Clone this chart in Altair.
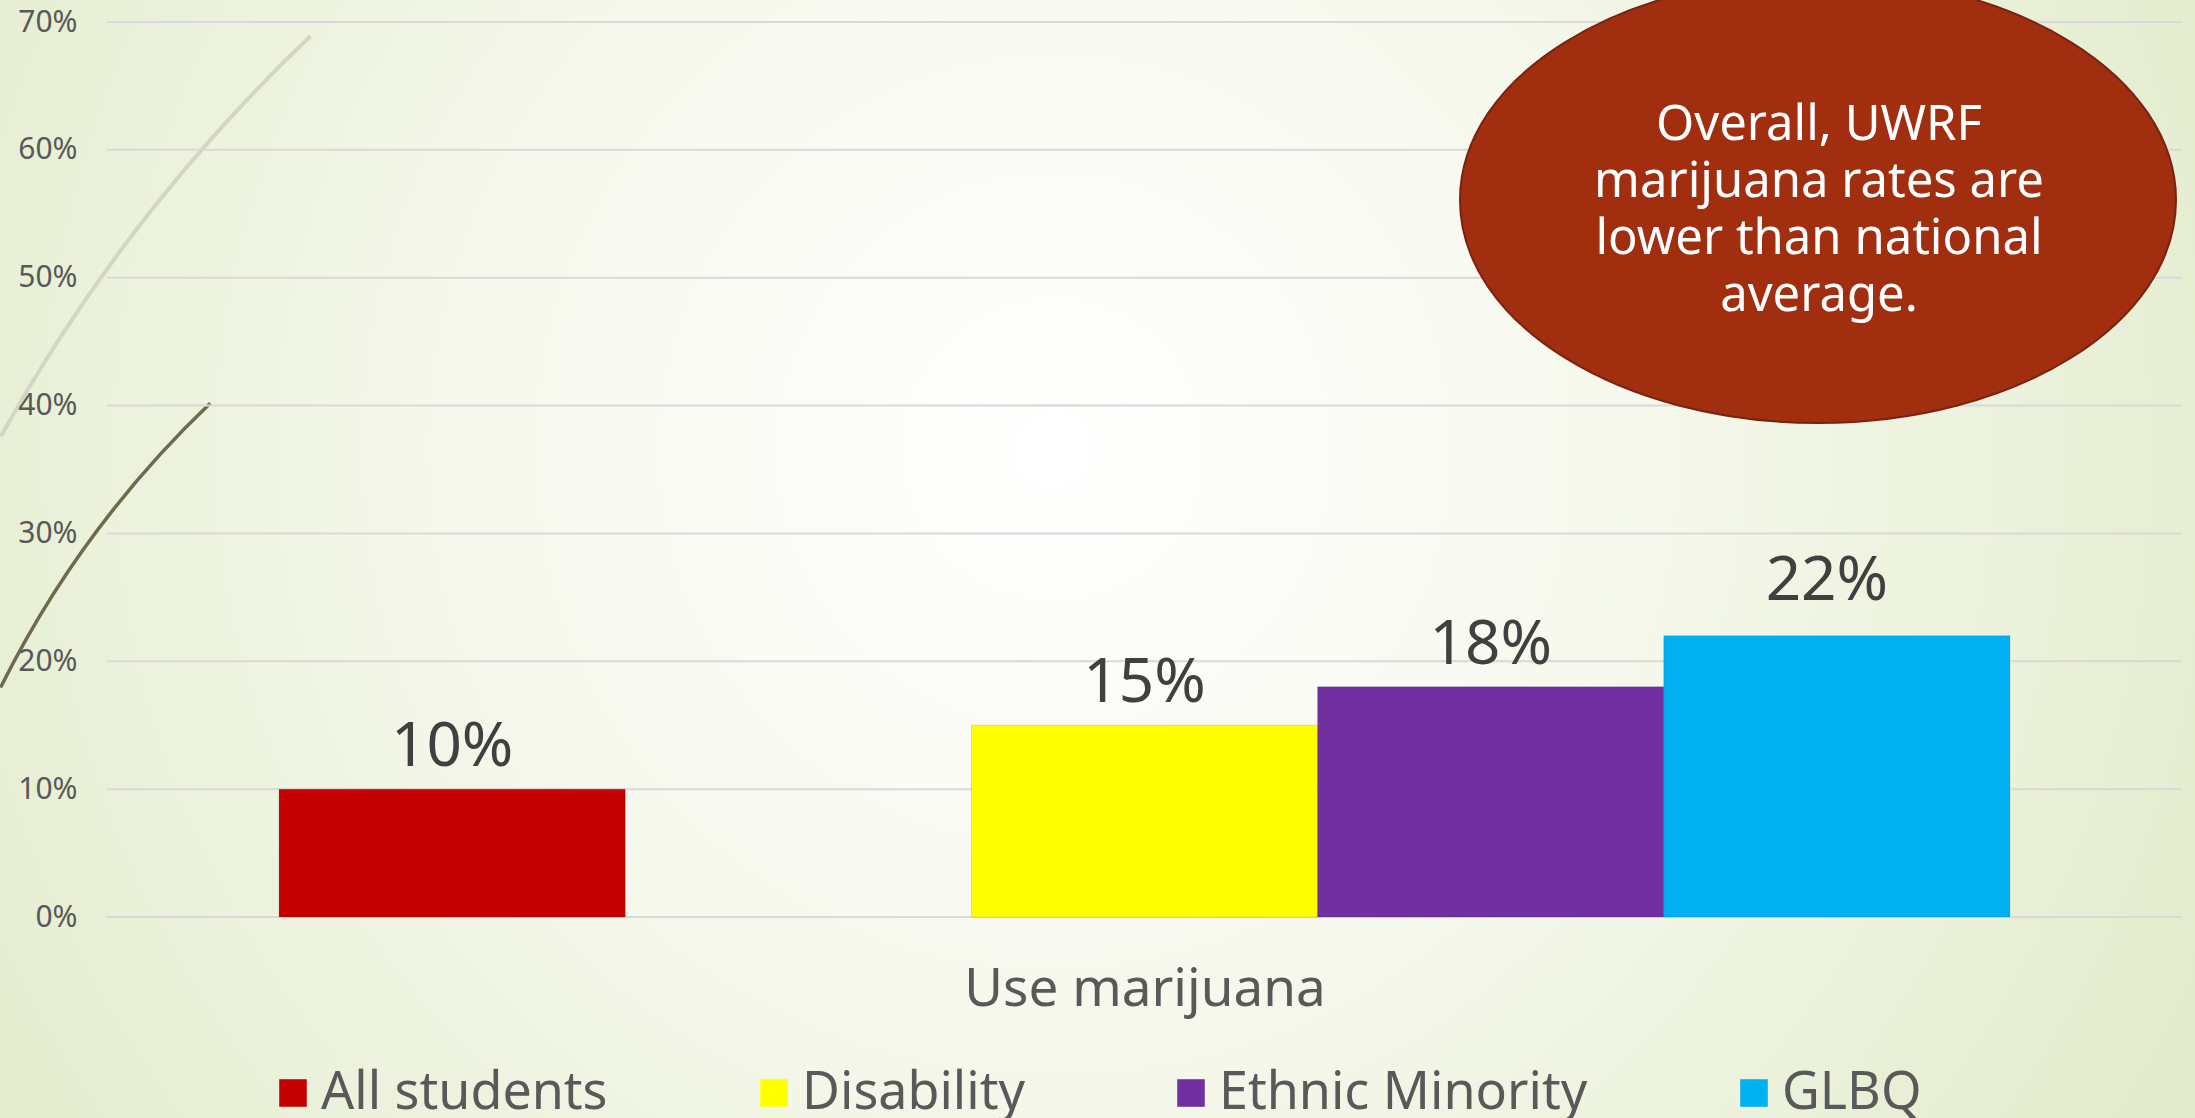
import altair as alt
import pandas as pd

# ---------------- data ----------------
groups = ["All students", "Disability", "Ethnic Minority", "GLBQ"]
values = [0.10, 0.15, 0.18, 0.22]
colors = ["#C40000", "#FFFF00", "#7030A0", "#00B0F0"]
slots = ["All students", " ", "Disability", "Ethnic Minority", "GLBQ"]  # blank slot between series
y_ticks = [0, 0.1, 0.2, 0.3, 0.4, 0.5, 0.6, 0.7]
x_title = "Use marijuana"
callout_lines = ["Overall, UWRF", "marijuana rates are", "lower than national", "average."]

W, H = 2075, 895
PAD = {"left": 107, "top": 22, "right": 13, "bottom": 201}
FONT = "Noto Sans"
TXT = "#595959"

bars_df = pd.DataFrame({"group": groups, "value": values})
ticks_df = pd.DataFrame({"tick": y_ticks})
one = pd.DataFrame({"k": [0]})

yscale = alt.Scale(domain=[0, 0.7], nice=False, zero=True)
yaxis = alt.Axis(values=y_ticks, format=".0%", labelFontSize=30, labelColor=TXT,
                 labelPadding=30, ticks=False, domain=False, grid=False, title=None,
                 zindex=1, labelFont=FONT)
xscale = alt.Scale(domain=slots, paddingInner=0, paddingOuter=0.497)

bg_gradient = {
    "gradient": "radial",
    "x1": 0.48, "y1": 0.45, "r1": 0,
    "x2": 0.48, "y2": 0.45, "r2": 0.68,
    "stops": [
        {"offset": 0, "color": "#FFFFFF"},
        {"offset": 0.35, "color": "#F7F9EF"},
        {"offset": 1, "color": "#DDE8C3"},
    ],
}

background = alt.Chart(one).mark_rect(fill=bg_gradient, strokeWidth=0).encode(
    x=alt.value(-PAD["left"]), x2=alt.value(W + PAD["right"]),
    y=alt.value(-PAD["top"]), y2=alt.value(H + PAD["bottom"]),
)

curve_light = alt.Chart(one).mark_arc(
    radius=1673, radius2=1669, theta=5.219, theta2=5.523, color="#D2D7C2"
).encode(x=alt.value(1355), y=alt.value(1225))

curve_dark = alt.Chart(one).mark_arc(
    radius=1022, radius2=1018.5, theta=5.174, theta2=5.522, color="#6F6A4C"
).encode(x=alt.value(807), y=alt.value(1120))

grid = alt.Chart(ticks_df).mark_rule(color="#D9D9D9", strokeWidth=2).encode(
    y=alt.Y("tick:Q", scale=yscale, axis=yaxis),
    x=alt.value(0), x2=alt.value(W),
)

bars = alt.Chart(bars_df).mark_bar(stroke="#000000", strokeOpacity=0.12, strokeWidth=1).encode(
    x=alt.X("group:N", scale=xscale, sort=slots,
            axis=alt.Axis(labels=False, ticks=False, domain=False, grid=False,
                          title=x_title, titleFontSize=53, titleColor=TXT,
                          titleFontWeight="normal", titlePadding=46, titleFont=FONT,
                          zindex=1)),
    y=alt.Y("value:Q", scale=yscale, axis=yaxis),
    color=alt.Color("group:N", scale=alt.Scale(domain=groups, range=colors),
                    legend=alt.Legend(orient="none", legendX=160, legendY=1045,
                                      direction="horizontal", columns=4, columnPadding=140,
                                      symbolType="square", symbolSize=760, symbolStrokeWidth=0,
                                      labelFontSize=52, labelColor=TXT, labelFont=FONT,
                                      labelOffset=2, labelLimit=800, title=None,
                                      padding=0, zindex=1)),
)

labels = alt.Chart(bars_df).transform_filter("datum.group != 'GLBQ'").mark_text(
    fontSize=62, color="#404040", baseline="alphabetic", align="center", dy=-23, font=FONT
).encode(
    x=alt.X("group:N", scale=xscale),
    y=alt.Y("value:Q", scale=yscale),
    text=alt.Text("value:Q", format=".0%"),
)

label_glbq = alt.Chart(bars_df).transform_filter("datum.group == 'GLBQ'").mark_text(
    fontSize=62, color="#404040", baseline="alphabetic", align="center", dy=-36, dx=-10, font=FONT
).encode(
    x=alt.X("group:N", scale=xscale),
    y=alt.Y("value:Q", scale=yscale),
    text=alt.Text("value:Q", format=".0%"),
)

ellipse_path = "M-1,0A1,0.623,0,1,1,1,0A1,0.623,0,1,1,-1,0Z"
callout = alt.Chart(one).mark_point(
    shape=ellipse_path, size=716 * 716, filled=True, fill="#A22E10",
    stroke="#7A2210", strokeWidth=2, opacity=1, fillOpacity=1, strokeOpacity=1
).encode(x=alt.value(1711), y=alt.value(178))

callout_text = alt.Chart(one).mark_text(
    fontSize=49, color="#FFFFFF", align="center", baseline="middle", lineHeight=57, font=FONT
).encode(x=alt.value(1712), y=alt.value(103), text=alt.value(callout_lines))

chart = alt.layer(
    background, curve_light, curve_dark, grid, bars, labels, label_glbq, callout, callout_text
).properties(
    width=W, height=H,
    autosize=alt.AutoSizeParams(type="none"),
    padding=PAD,
    background="#E3EBCF",
).configure(font=FONT).configure_view(stroke=None)

chart.save("out.html", embed_options={"renderer": "svg", "actions": False})
